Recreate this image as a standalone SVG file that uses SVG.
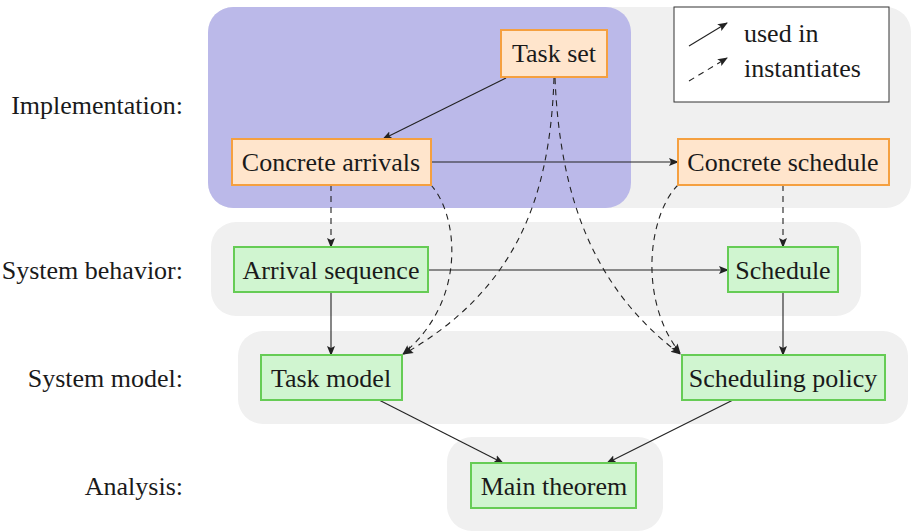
<svg xmlns="http://www.w3.org/2000/svg" width="911" height="532" viewBox="0 0 911 532">
<defs>
<marker id="ah" viewBox="0 0 10 10" refX="9" refY="5" markerWidth="10" markerHeight="10" markerUnits="userSpaceOnUse" orient="auto">
<path d="M0,1 L10,5 L0,9 L2,5 Z" fill="#222"/>
</marker>
</defs>
<g id="panels" fill="#f0f0f0">
<rect x="208" y="7" width="703" height="201" rx="25"/>
<rect x="208" y="7" width="423" height="201" rx="25" fill="#bbb9e9"/>
<rect x="211" y="222" width="650" height="94" rx="25"/>
<rect x="238" y="331" width="670" height="93" rx="25"/>
<rect x="447" y="437" width="216" height="94" rx="25"/>
</g>
<g id="labels">
<text x="183" y="114" font-family="Liberation Serif" font-size="26" fill="#1a1a1a" text-anchor="end">Implementation:</text>
<text x="183" y="279" font-family="Liberation Serif" font-size="26" fill="#1a1a1a" text-anchor="end">System behavior:</text>
<text x="183" y="387" font-family="Liberation Serif" font-size="26" fill="#1a1a1a" text-anchor="end">System model:</text>
<text x="183" y="495" font-family="Liberation Serif" font-size="26" fill="#1a1a1a" text-anchor="end">Analysis:</text>
</g>
<g id="legend">
<rect x="674" y="7" width="215" height="95" fill="#fff" stroke="#333" stroke-width="1"/>
<line x1="689" y1="46" x2="727" y2="23" fill="none" stroke="#222" stroke-width="1.1" marker-end="url(#ah)"/>
<line x1="689" y1="81" x2="727" y2="58" fill="none" stroke="#222" stroke-width="1.1" stroke-dasharray="6 5" marker-end="url(#ah)"/>
<text x="744" y="42" font-family="Liberation Serif" font-size="26" fill="#1a1a1a">used in</text>
<text x="744" y="77" font-family="Liberation Serif" font-size="26" fill="#1a1a1a">instantiates</text>
</g>
<g id="connectors" fill="none" stroke="#222" stroke-width="1.1" marker-end="url(#ah)">
<line x1="506" y1="78" x2="383" y2="139"/>
<line x1="431" y1="162" x2="678" y2="162"/>
<line x1="428" y1="270" x2="728" y2="270"/>
<line x1="331" y1="292" x2="331" y2="355"/>
<line x1="783" y1="292" x2="783" y2="355"/>
<line x1="379" y1="400" x2="503" y2="463"/>
<line x1="733" y1="400" x2="607" y2="463"/>
<g stroke-dasharray="6 5">
<line x1="331" y1="185" x2="331" y2="247"/>
<line x1="783" y1="185" x2="783" y2="247"/>
<path d="M431,185 C458,215 468,300 403,354"/>
<path d="M554,78 C550,200 515,290 404,354"/>
<path d="M555,78 C560,200 595,290 680,354"/>
<path d="M678,185 C648,215 638,300 680,353"/>
</g>
</g>
<g id="task-set"><rect x="501" y="30" width="106" height="47" fill="#ffe5cc" stroke="#f5a040" stroke-width="2"/><text x="554" y="62" font-family="Liberation Serif" font-size="26" fill="#1a1a1a" text-anchor="middle">Task set</text></g>
<g id="concrete-arrivals"><rect x="232" y="139" width="199" height="46" fill="#ffe5cc" stroke="#f5a040" stroke-width="2"/><text x="331" y="171" font-family="Liberation Serif" font-size="26" fill="#1a1a1a" text-anchor="middle">Concrete arrivals</text></g>
<g id="concrete-schedule"><rect x="678" y="139" width="211" height="46" fill="#ffe5cc" stroke="#f5a040" stroke-width="2"/><text x="783" y="171" font-family="Liberation Serif" font-size="26" fill="#1a1a1a" text-anchor="middle">Concrete schedule</text></g>
<g id="arrival-sequence"><rect x="234" y="247" width="194" height="45" fill="#d0f5d0" stroke="#66cc55" stroke-width="2"/><text x="331" y="279" font-family="Liberation Serif" font-size="26" fill="#1a1a1a" text-anchor="middle">Arrival sequence</text></g>
<g id="schedule"><rect x="728" y="247" width="110" height="45" fill="#d0f5d0" stroke="#66cc55" stroke-width="2"/><text x="783" y="279" font-family="Liberation Serif" font-size="26" fill="#1a1a1a" text-anchor="middle">Schedule</text></g>
<g id="task-model"><rect x="261" y="355" width="141" height="45" fill="#d0f5d0" stroke="#66cc55" stroke-width="2"/><text x="331" y="387" font-family="Liberation Serif" font-size="26" fill="#1a1a1a" text-anchor="middle">Task model</text></g>
<g id="scheduling-policy"><rect x="682" y="355" width="203" height="45" fill="#d0f5d0" stroke="#66cc55" stroke-width="2"/><text x="783" y="387" font-family="Liberation Serif" font-size="26" fill="#1a1a1a" text-anchor="middle">Scheduling policy</text></g>
<g id="main-theorem"><rect x="471" y="463" width="165" height="45" fill="#d0f5d0" stroke="#66cc55" stroke-width="2"/><text x="554" y="495" font-family="Liberation Serif" font-size="26" fill="#1a1a1a" text-anchor="middle">Main theorem</text></g>
</svg>
